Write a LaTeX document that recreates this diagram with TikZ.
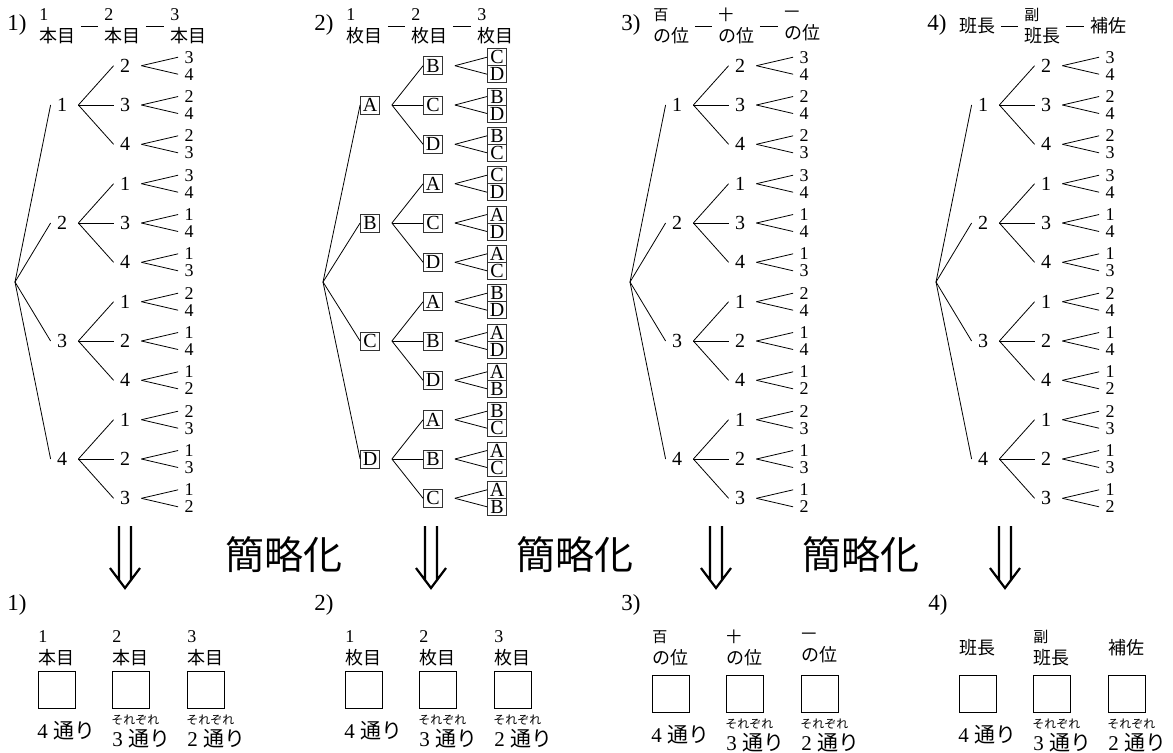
\documentclass[tikz,border=0pt]{standalone}
\usepackage{fontspec}
\setmainfont{Liberation Serif}
\newfontfamily\jp{Noto Sans CJK JP}
\usetikzlibrary{positioning,trees}

\newcommand\jsm{\jp\fontsize{7.5}{11}\selectfont}

\tikzset{
  numnode/.style={inner xsep=3pt,inner ysep=1pt,font=\fontsize{10}{12}\selectfont},
  numleaf/.style={inner ysep=0pt,font=\fontsize{9}{10}\selectfont},
  boxnode/.style={draw=black!80,line width=.4pt,inner sep=0pt,minimum width=9.5pt,minimum height=9pt,
    text height=6.6pt,text depth=0pt,font=\fontsize{10}{12}\selectfont},
  boxleaf/.style={minimum height=8.5pt},
  numtree/.style={edge from parent path={([xshift=2.5pt]\tikzparentnode.east) -- (\tikzchildnode.west)}},
  boxtree/.style={edge from parent path={([xshift=6pt]\tikzparentnode.east) -- (\tikzchildnode.west)}},
  headlab/.style={align=left,inner sep=0pt,font=\fontsize{9}{11}\selectfont},
  numtag/.style={anchor=base west,inner sep=0pt,font=\fontsize{11.5}{13}\selectfont},
  slotbox/.style={draw,line width=.5pt,minimum size=18.5pt,inner sep=0pt},
  waycount/.style={anchor=west,inner sep=0pt,font=\fontsize{10.5}{12}\selectfont},
  eachword/.style={anchor=west,inner sep=0pt,font=\jp\fontsize{6}{7}\selectfont},
  bigword/.style={inner sep=0pt,font=\jp\fontsize{19.5}{22}\selectfont}
}

% tree of all orders of four things
\newcommand\permtree[7]{%
  \node[coordinate] (#1) at (#2,282) {} [grow'=right,nodes={#3node},
    level 1/.style={level distance=23.5pt,sibling distance=59pt,
      edge from parent path={(\tikzparentnode) -- (\tikzchildnode.west)}},
    level 2/.style={level distance=31.5pt,sibling distance=19.65pt,#3tree},
    level 3/.style={level distance=32pt,sibling distance=8.5pt,nodes={#3leaf}}]
  child {node {#4}
    child {node {#5} child {node {#6}} child {node {#7}}}
    child {node {#6} child {node {#5}} child {node {#7}}}
    child {node {#7} child {node {#5}} child {node {#6}}}}
  child {node {#5}
    child {node {#4} child {node {#6}} child {node {#7}}}
    child {node {#6} child {node {#4}} child {node {#7}}}
    child {node {#7} child {node {#4}} child {node {#6}}}}
  child {node {#6}
    child {node {#4} child {node {#5}} child {node {#7}}}
    child {node {#5} child {node {#4}} child {node {#7}}}
    child {node {#7} child {node {#4}} child {node {#5}}}}
  child {node {#7}
    child {node {#4} child {node {#5}} child {node {#6}}}
    child {node {#5} child {node {#4}} child {node {#6}}}
    child {node {#6} child {node {#4}} child {node {#5}}}};
}

% heading row over a tree
\newcommand\treeheads[6]{%
  \node[numtag] (#1t) at (#2+7,30) {#3};
  \node[headlab,anchor=west] (#1a) at (#2+39,26) {#4};
  \node[headlab,anchor=west] (#1b) at (#2+104,26) {#5};
  \node[headlab,anchor=west] (#1c) at (#2+170,26) {#6};
  \draw[shorten <=2.5pt,shorten >=3pt] (#1a) -- (#1b);
  \draw[shorten <=2.5pt,shorten >=3pt] (#1b) -- (#1c);
}

% three empty slots with counts
\newcommand\slotrow[7]{%
  \node[numtag] (#1t) at (#3+7,610) {#2};
  \node[slotbox] (#1a) at (#3+56.5,#4) {};
  \node[slotbox] (#1b) at (#3+130.5,#4) {};
  \node[slotbox] (#1c) at (#3+205.5,#4) {};
  \node[headlab,anchor=west] (#1la) at (#3+38,648) {#5};
  \node[headlab,anchor=west] (#1lb) at (#3+112,648) {#6};
  \node[headlab,anchor=west] (#1lc) at (#3+187,648) {#7};
  \node[waycount] (#1na) at (#3+37,#4+41.5) {4 {\jp 通り}};
  \node[eachword] (#1eb) at (#3+111,#4+31) {それぞれ};
  \node[waycount] (#1nb) at (#3+112,#4+49) {3 {\jp 通り}};
  \node[eachword] (#1ec) at (#3+186,#4+31) {それぞれ};
  \node[waycount] (#1nc) at (#3+187,#4+49) {2 {\jp 通り}};
}

\begin{document}
\begin{tikzpicture}[x=0.5pt,y=-0.5pt]
\useasboundingbox (0,0) rectangle (1173,752);

\treeheads{ha}{0}{1)}{1\\{\jp 本目}}{2\\{\jp 本目}}{3\\{\jp 本目}}
\treeheads{hb}{307}{2)}{1\\{\jp 枚目}}{2\\{\jp 枚目}}{3\\{\jp 枚目}}
\treeheads{hc}{614}{3)}{{\jsm 百}\\{\jp の位}}{{\jsm 十}\\{\jp の位}}{{\jsm 一}\\{\jp の位}}
\treeheads{hd}{920}{4)}{{\jp 班長}}{{\jsm 副}\\{\jp 班長}}{{\jp 補佐}}

\permtree{ta}{15}{num}{1}{2}{3}{4}
\permtree{tb}{323}{box}{A}{B}{C}{D}
\permtree{tc}{630}{num}{1}{2}{3}{4}
\permtree{td}{936}{num}{1}{2}{3}{4}

% arrows down
\foreach \x in {125,431,716,1005}
  \draw[line width=1.1pt] (\x-6,526) -- (\x-6,581) (\x+6,526) -- (\x+6,581)
    (\x-15,568) -- (\x,588) -- (\x+15,568);
\foreach \x in {284,575,861}
  \node[bigword] (simp\x) at (\x,555) {簡略化};

\slotrow{sa}{1)}{0}{689.5}{1\\{\jp 本目}}{2\\{\jp 本目}}{3\\{\jp 本目}}
\slotrow{sb}{2)}{307}{689.5}{1\\{\jp 枚目}}{2\\{\jp 枚目}}{3\\{\jp 枚目}}
\slotrow{sc}{3)}{614}{693.5}{{\jsm 百}\\{\jp の位}}{{\jsm 十}\\{\jp の位}}{{\jsm 一}\\{\jp の位}}
\slotrow{sd}{4)}{921}{693.5}{{\jp 班長}}{{\jsm 副}\\{\jp 班長}}{{\jp 補佐}}
\end{tikzpicture}
\end{document}
